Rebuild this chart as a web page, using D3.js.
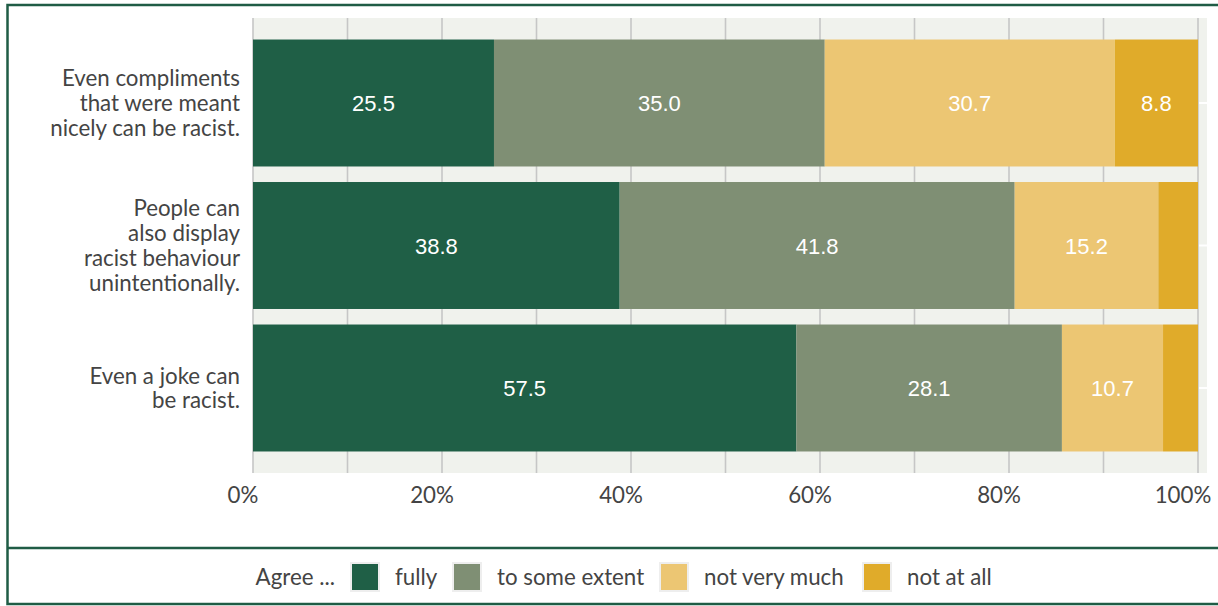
<!DOCTYPE html>
<html><head><meta charset="utf-8">
<script src="https://cdn.jsdelivr.net/npm/d3@7"></script>
<style>
html,body{margin:0;padding:0;background:#fff;}
svg{display:block;}
</style></head>
<body>
<svg id="chart" width="1218" height="606"></svg>
<script>
const categories = [
  ["Even compliments","that were meant","nicely can be racist."],
  ["People can","also display","racist behaviour","unintentionally."],
  ["Even a joke can","be racist."]
];
const seriesNames = ["fully","to some extent","not very much","not at all"];
const fully        = [25.5, 38.8, 57.5];
const someExtent   = [35.0, 41.8, 28.1];
const notVeryMuch  = [30.7, 15.2, 10.7];
const notAtAll     = [8.8, 4.2, 3.7];
const tickValues = [0,20,40,60,80,100];
const legendTitle = "Agree ...";
const colors = ["#1f5f46","#7f8f74","#ecc673","#e0ab2a"];

const series = [fully, someExtent, notVeryMuch, notAtAll];
const rows = categories.map((c,i)=>({key:i, label:c, values: series.map(s=>s[i])}));

const svg = d3.select("#chart");
const labelFont = "Lato, 'Open Sans', sans-serif";
const numFont = "'Liberation Sans', Arial, sans-serif";
const fs = 22.3;

const x0 = 253, x1 = 1198, yTop = 18, yBot = 473;
const x = d3.scaleLinear().domain([0,100]).range([x0,x1]);
const y = d3.scaleBand().domain(rows.map(r=>r.key)).range([yTop,yBot]).paddingInner(0.109).paddingOuter(0.151);

// outer frame
svg.append("rect").attr("x",7.5).attr("y",5).attr("width",1230).attr("height",599)
  .attr("fill","none").attr("stroke","#1f5c45").attr("stroke-width",2.5);
svg.append("line").attr("x1",8).attr("x2",1218).attr("y1",548).attr("y2",548)
  .attr("stroke","#1f5c45").attr("stroke-width",2.5);

// plot background
svg.append("rect").attr("x",x0).attr("y",yTop).attr("width",1207-x0).attr("height",yBot-yTop).attr("fill","#f0f2ed");

// gridlines
svg.append("g").selectAll("line").data(d3.range(0,101,10)).join("line")
  .attr("x1",d=>x(d)).attr("x2",d=>x(d)).attr("y1",yTop).attr("y2",yBot)
  .attr("stroke","#c6c6c6").attr("stroke-width",1.6);

// white marks at band centers beyond 100%
svg.append("g").selectAll("line").data(rows).join("line")
  .attr("x1",x(100)+1).attr("x2",1207).attr("y1",d=>y(d.key)+y.bandwidth()/2).attr("y2",d=>y(d.key)+y.bandwidth()/2)
  .attr("stroke","#fff").attr("stroke-width",2);

// stacked bars
const stackData = rows.map(r=>{
  let acc=0;
  return r.values.map((v,j)=>{const s={row:r.key,j,v,start:acc,end:acc+v}; acc+=v; return s;});
});
const gBars = svg.append("g");
stackData.forEach(segs=>{
  gBars.selectAll(null).data(segs).join("rect")
    .attr("x",d=>x(d.start)).attr("width",d=>x(d.end)-x(d.start))
    .attr("y",d=>y(d.row)).attr("height",y.bandwidth())
    .attr("fill",d=>colors[d.j]);
  gBars.selectAll(null).data(segs.filter(d=>d.v>=5)).join("text")
    .attr("x",d=>(x(d.start)+x(d.end))/2)
    .attr("y",d=>y(d.row)+y.bandwidth()/2+8)
    .attr("text-anchor","middle").attr("fill","#fff")
    .attr("font-family",numFont).attr("font-size",22)
    .text(d=>d.v.toFixed(1));
});

// category labels
const lh = 24.8;
const gCat = svg.append("g");
rows.forEach(r=>{
  const cy = y(r.key)+y.bandwidth()/2;
  const n = r.label.length;
  r.label.forEach((t,i)=>{
    gCat.append("text").attr("x",240).attr("y",cy+8+(i-(n-1)/2)*lh)
      .attr("text-anchor","end").attr("fill","#444")
      .attr("font-family",labelFont).attr("font-size",fs).text(t);
  });
});

// x axis labels
svg.append("g").selectAll("text").data(tickValues).join("text")
  .attr("x",d=>x(d)-10-(d===100?5:0)).attr("y",503)
  .attr("text-anchor","middle").attr("fill","#444")
  .attr("font-family",labelFont).attr("font-size",fs)
  .text(d=>d+"%");

// legend
const lg = svg.append("g");
lg.append("text").attr("x",335).attr("y",585).attr("text-anchor","end").attr("fill","#444")
  .attr("font-family",labelFont).attr("font-size",fs).text(legendTitle);
const swX = [351,453,660,863];
seriesNames.forEach((n,i)=>{
  lg.append("rect").attr("x",swX[i]).attr("y",563).attr("width",28).attr("height",28)
    .attr("fill",colors[i]).attr("stroke","#eeeeee").attr("stroke-width",2);
  lg.append("text").attr("x",swX[i]+44).attr("y",585).attr("fill","#444")
    .attr("font-family",labelFont).attr("font-size",fs).text(n);
});
</script>
</body></html>
